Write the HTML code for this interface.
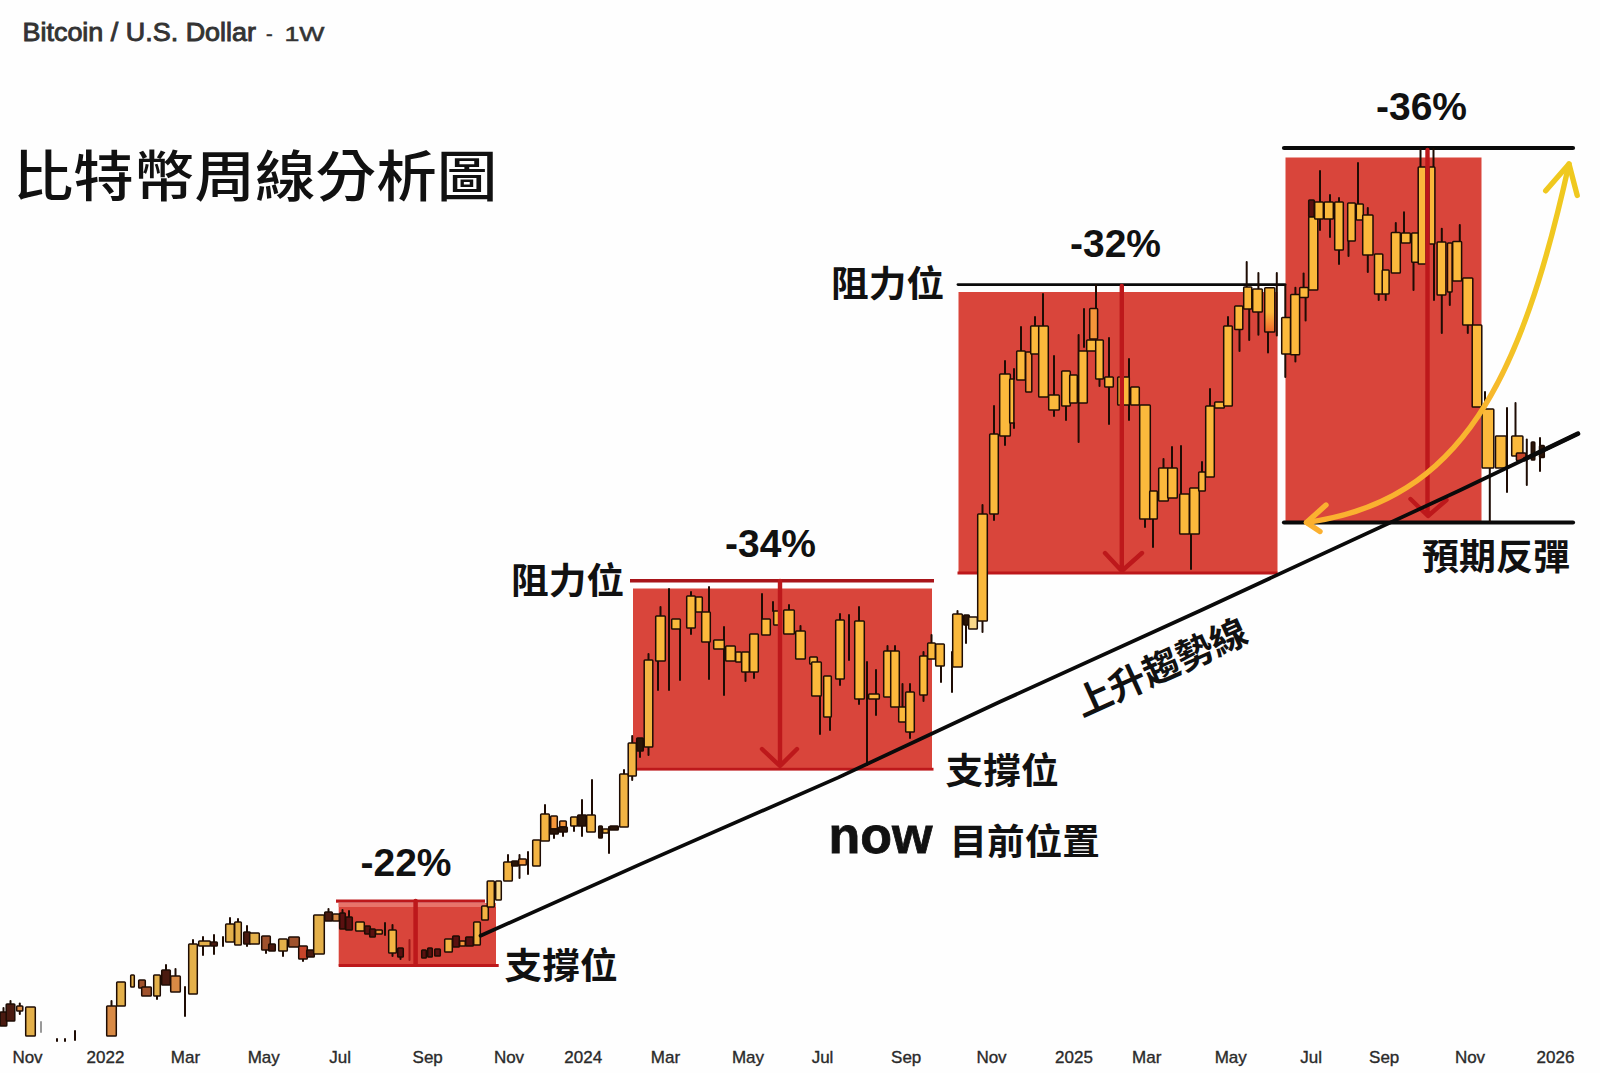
<!DOCTYPE html>
<html lang="zh-Hant"><head><meta charset="utf-8"><title>比特幣周線分析圖</title>
<style>
html,body{margin:0;padding:0;background:#fefefe}
body{width:1600px;height:1073px;overflow:hidden;position:relative}
svg{position:absolute;left:0;top:0;display:block}
text{font-family:"Liberation Sans","Noto Sans CJK TC",sans-serif;fill:#111}
.cjk{font-family:"Liberation Sans","Noto Sans CJK TC",sans-serif;font-weight:700}
.now{font-family:"Liberation Sans",sans-serif;font-weight:700;stroke:#111;stroke-width:.8px}
.pct{font-family:"Liberation Sans",sans-serif;font-weight:700;font-size:39px}
.ax{font-family:"Liberation Sans",sans-serif;font-size:17px;fill:#2a2a2a;stroke:#2a2a2a;stroke-width:.35px;text-anchor:middle}
</style></head><body>
<svg width="1600" height="1073" viewBox="0 0 1600 1073">
<defs>
<linearGradient id="yc" x1="1306" y1="522" x2="1569" y2="164" gradientUnits="userSpaceOnUse"><stop offset="0" stop-color="#fbb030"/><stop offset="0.45" stop-color="#f8b52e"/><stop offset="0.62" stop-color="#f2c524"/><stop offset="1" stop-color="#efc91e"/></linearGradient>
<linearGradient id="yo" x1="0" y1="0" x2="0" y2="1"><stop offset="0.55" stop-color="#fbb93c"/><stop offset="1" stop-color="#f0662c"/></linearGradient>
</defs>

<g>
<rect x="338.7" y="903" width="157.3" height="63" fill="#d9453b"/>
<rect x="338.7" y="903" width="157.3" height="4" fill="#e8746a"/>
<rect x="336" y="899.5" width="149" height="3.2" fill="#bd181b"/>
<rect x="338.7" y="964" width="160" height="3" fill="#bd181b"/>
<rect x="633" y="588.5" width="299" height="181" fill="#d9453b"/>
<rect x="630" y="579" width="304" height="3.5" fill="#a81419"/>
<rect x="633" y="767.8" width="300.5" height="2.8" fill="#bd181b"/>
<rect x="958.5" y="292" width="319" height="281" fill="#d9453b"/>
<rect x="957.5" y="571.5" width="320" height="3" fill="#bd181b"/>
<rect x="1285.5" y="157.5" width="196" height="364" fill="#d9453b"/>
</g>
<g stroke="#0a0a0a" stroke-linecap="round">
<line x1="958" y1="284.6" x2="1285" y2="284.6" stroke-width="2.8"/>
<line x1="1284" y1="148" x2="1573" y2="148" stroke-width="4.2"/>
<line x1="1284" y1="522.5" x2="1573" y2="522.5" stroke-width="4.2"/>
</g>
<g stroke="#1e0c04" stroke-width="2" stroke-linecap="round">
<line x1="41" y1="1022" x2="41" y2="1032" stroke="#999"/>
<line x1="57" y1="1039" x2="57" y2="1041"/>
<line x1="65" y1="1039" x2="65" y2="1041"/>
<line x1="75" y1="1031" x2="75" y2="1040"/>
<line x1="185" y1="987" x2="185" y2="1016"/>
<line x1="223" y1="937" x2="223" y2="946"/>
<line x1="385" y1="923" x2="385" y2="935"/>
<line x1="409.5" y1="940" x2="409.5" y2="960" stroke="#a01818"/>
<line x1="528" y1="852" x2="528" y2="874"/>
<line x1="609" y1="827" x2="609" y2="853"/>
<line x1="658" y1="661" x2="658" y2="690"/>
<line x1="669" y1="589" x2="669" y2="690"/>
<line x1="680" y1="629" x2="680" y2="680"/>
<line x1="709" y1="587" x2="709" y2="679"/>
<line x1="724" y1="627" x2="724" y2="695"/>
<line x1="762" y1="594" x2="762" y2="619"/>
<line x1="820" y1="696" x2="820" y2="734"/>
<line x1="830" y1="717" x2="830" y2="730"/>
<line x1="849" y1="615" x2="849" y2="660"/>
<line x1="867" y1="662" x2="867" y2="765"/>
<line x1="876" y1="670" x2="876" y2="715"/>
<line x1="952" y1="652" x2="952" y2="692"/>
<line x1="1054" y1="356" x2="1054" y2="416"/>
<line x1="1078.6" y1="335" x2="1078.6" y2="442"/>
<line x1="1084" y1="309" x2="1084" y2="347"/>
<line x1="1109" y1="338" x2="1109" y2="424"/>
<line x1="1129" y1="359" x2="1129" y2="420"/>
<line x1="1249.2" y1="309" x2="1249.2" y2="340"/>
<line x1="1276.8" y1="273" x2="1276.8" y2="335.4"/>
<line x1="1305.6" y1="297.4" x2="1305.6" y2="320.5"/>
<line x1="1434" y1="244" x2="1434" y2="300"/>
<line x1="1489.8" y1="468" x2="1489.8" y2="521"/>
<line x1="1507" y1="408" x2="1507" y2="492"/>
<line x1="1526.8" y1="439.6" x2="1526.8" y2="485"/>
<line x1="3.5" y1="1008" x2="3.5" y2="1012"/>
<line x1="10.5" y1="1001" x2="10.5" y2="1004"/>
<line x1="19.8" y1="1003.5" x2="19.8" y2="1006"/>
<line x1="19.8" y1="1011" x2="19.8" y2="1014"/>
<line x1="111.5" y1="1001" x2="111.5" y2="1006"/>
<line x1="157" y1="996" x2="157" y2="999"/>
<line x1="166" y1="965" x2="166" y2="970"/>
<line x1="175.5" y1="969" x2="175.5" y2="976"/>
<line x1="193" y1="940" x2="193" y2="944"/>
<line x1="203" y1="937" x2="203" y2="941"/>
<line x1="203" y1="946" x2="203" y2="955"/>
<line x1="214" y1="935" x2="214" y2="942"/>
<line x1="214" y1="946" x2="214" y2="954"/>
<line x1="230" y1="918" x2="230" y2="924"/>
<line x1="238" y1="919" x2="238" y2="922"/>
<line x1="247" y1="926" x2="247" y2="932"/>
<line x1="247" y1="944" x2="247" y2="946"/>
<line x1="266" y1="950" x2="266" y2="953"/>
<line x1="283" y1="951" x2="283" y2="956"/>
<line x1="303" y1="959" x2="303" y2="961"/>
<line x1="328.5" y1="909" x2="328.5" y2="912"/>
<line x1="342.5" y1="910" x2="342.5" y2="913"/>
<line x1="349" y1="911" x2="349" y2="917"/>
<line x1="392.5" y1="925" x2="392.5" y2="930"/>
<line x1="392.5" y1="953" x2="392.5" y2="956"/>
<line x1="400.5" y1="957" x2="400.5" y2="959"/>
<line x1="508" y1="855" x2="508" y2="862"/>
<line x1="519.5" y1="855" x2="519.5" y2="859"/>
<line x1="519.5" y1="865" x2="519.5" y2="878"/>
<line x1="545" y1="805" x2="545" y2="814"/>
<line x1="554" y1="834" x2="554" y2="838"/>
<line x1="563" y1="832" x2="563" y2="836"/>
<line x1="574" y1="826" x2="574" y2="831"/>
<line x1="582" y1="800" x2="582" y2="815"/>
<line x1="582" y1="826" x2="582" y2="836"/>
<line x1="592" y1="780" x2="592" y2="815"/>
<line x1="624" y1="770" x2="624" y2="774"/>
<line x1="632.2" y1="736" x2="632.2" y2="743"/>
<line x1="632.2" y1="776" x2="632.2" y2="780"/>
<line x1="640" y1="751" x2="640" y2="757"/>
<line x1="648.5" y1="654" x2="648.5" y2="660"/>
<line x1="648.5" y1="747" x2="648.5" y2="755"/>
<line x1="660.5" y1="607" x2="660.5" y2="616"/>
<line x1="691" y1="592" x2="691" y2="596"/>
<line x1="691" y1="628" x2="691" y2="634"/>
<line x1="745.5" y1="672" x2="745.5" y2="681"/>
<line x1="754" y1="672" x2="754" y2="678"/>
<line x1="773" y1="602" x2="773" y2="611"/>
<line x1="789" y1="605" x2="789" y2="610"/>
<line x1="800.5" y1="626" x2="800.5" y2="631"/>
<line x1="840" y1="614" x2="840" y2="620"/>
<line x1="840" y1="679" x2="840" y2="685"/>
<line x1="859" y1="607" x2="859" y2="621"/>
<line x1="859" y1="699" x2="859" y2="704"/>
<line x1="887.5" y1="646" x2="887.5" y2="651"/>
<line x1="895" y1="646" x2="895" y2="651"/>
<line x1="902.5" y1="684" x2="902.5" y2="707"/>
<line x1="910" y1="684" x2="910" y2="692"/>
<line x1="910" y1="732" x2="910" y2="738"/>
<line x1="923.5" y1="652" x2="923.5" y2="656"/>
<line x1="923.5" y1="695" x2="923.5" y2="701"/>
<line x1="931.5" y1="635" x2="931.5" y2="643"/>
<line x1="941" y1="666" x2="941" y2="682"/>
<line x1="957.5" y1="611" x2="957.5" y2="614"/>
<line x1="966" y1="625" x2="966" y2="643"/>
<line x1="982.5" y1="505" x2="982.5" y2="514"/>
<line x1="982.5" y1="621" x2="982.5" y2="632"/>
<line x1="994" y1="406" x2="994" y2="434"/>
<line x1="994" y1="514" x2="994" y2="520"/>
<line x1="1005" y1="361" x2="1005" y2="374"/>
<line x1="1005" y1="436" x2="1005" y2="445"/>
<line x1="1014" y1="369" x2="1014" y2="379"/>
<line x1="1014" y1="423" x2="1014" y2="428"/>
<line x1="1021" y1="327" x2="1021" y2="351"/>
<line x1="1035" y1="317" x2="1035" y2="326"/>
<line x1="1043" y1="294" x2="1043" y2="326"/>
<line x1="1066" y1="406" x2="1066" y2="420"/>
<line x1="1096" y1="285" x2="1096" y2="308.5"/>
<line x1="1099.5" y1="379" x2="1099.5" y2="386"/>
<line x1="1145" y1="519" x2="1145" y2="527"/>
<line x1="1153" y1="519" x2="1153" y2="547"/>
<line x1="1163.5" y1="459" x2="1163.5" y2="468"/>
<line x1="1172" y1="447" x2="1172" y2="468"/>
<line x1="1181" y1="446" x2="1181" y2="494"/>
<line x1="1191" y1="534" x2="1191" y2="569"/>
<line x1="1202" y1="462" x2="1202" y2="472"/>
<line x1="1210" y1="389" x2="1210" y2="406"/>
<line x1="1228" y1="317" x2="1228" y2="326"/>
<line x1="1239.5" y1="329.5" x2="1239.5" y2="351"/>
<line x1="1246.7" y1="262" x2="1246.7" y2="287"/>
<line x1="1258.4" y1="273" x2="1258.4" y2="289"/>
<line x1="1258.4" y1="312" x2="1258.4" y2="334.7"/>
<line x1="1268" y1="332" x2="1268" y2="352.6"/>
<line x1="1285.3" y1="285" x2="1285.3" y2="317.5"/>
<line x1="1285.3" y1="354" x2="1285.3" y2="377"/>
<line x1="1295.4" y1="287.7" x2="1295.4" y2="294.4"/>
<line x1="1295.4" y1="354.8" x2="1295.4" y2="361.5"/>
<line x1="1303.6" y1="273.5" x2="1303.6" y2="287.4"/>
<line x1="1320" y1="171" x2="1320" y2="202"/>
<line x1="1320" y1="219" x2="1320" y2="230"/>
<line x1="1330" y1="195" x2="1330" y2="202"/>
<line x1="1330" y1="219" x2="1330" y2="237"/>
<line x1="1339" y1="198" x2="1339" y2="202"/>
<line x1="1339" y1="250" x2="1339" y2="264"/>
<line x1="1348.5" y1="241" x2="1348.5" y2="256"/>
<line x1="1358" y1="163" x2="1358" y2="204"/>
<line x1="1367.8" y1="208" x2="1367.8" y2="215"/>
<line x1="1367.8" y1="255" x2="1367.8" y2="272"/>
<line x1="1378.7" y1="294" x2="1378.7" y2="300"/>
<line x1="1385.7" y1="294" x2="1385.7" y2="300"/>
<line x1="1395.8" y1="223" x2="1395.8" y2="232.5"/>
<line x1="1404" y1="212.3" x2="1404" y2="233"/>
<line x1="1413.5" y1="262.3" x2="1413.5" y2="290"/>
<line x1="1420.5" y1="149" x2="1420.5" y2="167"/>
<line x1="1433.5" y1="149" x2="1433.5" y2="167"/>
<line x1="1441.8" y1="228.7" x2="1441.8" y2="242"/>
<line x1="1441.8" y1="295" x2="1441.8" y2="333"/>
<line x1="1449.8" y1="292" x2="1449.8" y2="305"/>
<line x1="1459.8" y1="225" x2="1459.8" y2="241.4"/>
<line x1="1467.8" y1="325" x2="1467.8" y2="333"/>
<line x1="1485" y1="392" x2="1485" y2="409"/>
<line x1="1515.5" y1="403" x2="1515.5" y2="436"/>
<line x1="1540" y1="438" x2="1540" y2="445.6"/>
<line x1="1540" y1="457.5" x2="1540" y2="471"/>
</g>
<g stroke="#1e0c04" stroke-width="1.5">
<rect x="0.2" y="1012" width="6.6" height="14" fill="#4a1a10" rx="0.8"/>
<rect x="6.2" y="1004" width="8.6" height="17" fill="#4a1a10" rx="0.8"/>
<rect x="16.7" y="1006" width="6.1" height="5" fill="#d98a45" rx="0.8"/>
<rect x="25.7" y="1007" width="9.6" height="29" fill="#e4b04a" rx="0.8"/>
<rect x="106.7" y="1006" width="9.6" height="30" fill="#d98a45" rx="0.8"/>
<rect x="116.7" y="982" width="8.6" height="24" fill="#e4b04a" rx="0.8"/>
<rect x="130.7" y="975" width="3.6" height="12" fill="#e4b04a" rx="0.8"/>
<rect x="138.7" y="980" width="6.6" height="8" fill="#a0522d" rx="0.8"/>
<rect x="141.7" y="987" width="9.6" height="9" fill="#a0522d" rx="0.8"/>
<rect x="153.7" y="975" width="6.6" height="21" fill="#e4b04a" rx="0.8"/>
<rect x="161.7" y="970" width="8.6" height="15" fill="#4a1a10" rx="0.8"/>
<rect x="170.7" y="976" width="9.6" height="16" fill="#d98a45" rx="0.8"/>
<rect x="188.7" y="944" width="8.6" height="50" fill="#e4b04a" rx="0.8"/>
<rect x="198.7" y="941" width="11.6" height="5" fill="#e4b04a" rx="0.8"/>
<rect x="210.7" y="942" width="6.6" height="4" fill="#4a1a10" rx="0.8"/>
<rect x="225.7" y="924" width="8.6" height="18" fill="#e4b04a" rx="0.8"/>
<rect x="234.7" y="922" width="6.6" height="23" fill="#e4b04a" rx="0.8"/>
<rect x="243.7" y="932" width="6.6" height="12" fill="#4a1a10" rx="0.8"/>
<rect x="249.7" y="933" width="9.6" height="11" fill="#e4b04a" rx="0.8"/>
<rect x="261.7" y="936" width="8.6" height="14" fill="#a0522d" rx="0.8"/>
<rect x="268.7" y="944" width="6.6" height="7" fill="#4a1a10" rx="0.8"/>
<rect x="278.7" y="939" width="8.6" height="12" fill="#e4b04a" rx="0.8"/>
<rect x="288.7" y="937" width="10.6" height="10" fill="#a0522d" rx="0.8"/>
<rect x="298.7" y="946" width="8.6" height="13" fill="#c8452a" rx="0.8"/>
<rect x="306.7" y="950" width="7.6" height="7" fill="#4a1a10" rx="0.8"/>
<rect x="313.7" y="915" width="10.6" height="39" fill="#e4b04a" rx="0.8"/>
<rect x="324.7" y="912" width="7.6" height="9" fill="#4a1a10" rx="0.8"/>
<rect x="332.7" y="914" width="6.6" height="7" fill="#d98a45" rx="0.8"/>
<rect x="339.7" y="913" width="5.6" height="16" fill="#5a1010" rx="0.8"/>
<rect x="345.7" y="917" width="6.6" height="13" fill="#5a1010" rx="0.8"/>
<rect x="355.7" y="922" width="8.6" height="9" fill="#f3b443" rx="0.8"/>
<rect x="364.7" y="926" width="5.6" height="8" fill="#5a1010" rx="0.8"/>
<rect x="369.7" y="929" width="5.6" height="8" fill="#5a1010" rx="0.8"/>
<rect x="375.7" y="930" width="6.6" height="4" fill="#f5963a" rx="0.8"/>
<rect x="388.7" y="930" width="7.6" height="23" fill="#f3b443" rx="0.8"/>
<rect x="397.7" y="948" width="5.6" height="9" fill="#5a1010" rx="0.8"/>
<rect x="421.7" y="950" width="4.6" height="8" fill="#5a1010" rx="0.8"/>
<rect x="427.7" y="948" width="4.6" height="9" fill="#5a1010" rx="0.8"/>
<rect x="434.7" y="949" width="5.6" height="7" fill="#5a1010" rx="0.8"/>
<rect x="444.7" y="939" width="7.6" height="13" fill="#f3b443" rx="0.8"/>
<rect x="452.7" y="936" width="6.6" height="11" fill="#5a1010" rx="0.8"/>
<rect x="459.7" y="941" width="5.6" height="5" fill="#f5963a" rx="0.8"/>
<rect x="465.7" y="937" width="7.6" height="9" fill="#5a1010" rx="0.8"/>
<rect x="473.7" y="922" width="6.6" height="23" fill="#f3b443" rx="0.8"/>
<rect x="481.7" y="906" width="6.6" height="14" fill="#f3b443" rx="0.8"/>
<rect x="487.2" y="881" width="7.1" height="26" fill="#f3b443" rx="0.8"/>
<rect x="495.7" y="881" width="5.6" height="19" fill="#fbd98a" rx="0.8"/>
<rect x="503.7" y="862" width="8.6" height="19" fill="#f3b443" rx="0.8"/>
<rect x="511.7" y="861" width="6.6" height="5" fill="#2a1508" rx="0.8"/>
<rect x="518.7" y="859" width="7.6" height="6" fill="#f5963a" rx="0.8"/>
<rect x="532.7" y="840" width="7.6" height="26" fill="#f3b443" rx="0.8"/>
<rect x="540.7" y="814" width="8.6" height="27" fill="#f3b443" rx="0.8"/>
<rect x="550.7" y="816" width="6.6" height="13" fill="#f5963a" rx="0.8"/>
<rect x="549.7" y="829" width="8.6" height="5" fill="#2a1508" rx="0.8"/>
<rect x="559.7" y="821" width="6.6" height="6" fill="#f5963a" rx="0.8"/>
<rect x="558.7" y="827" width="8.6" height="5" fill="#2a1508" rx="0.8"/>
<rect x="570.7" y="817" width="6.6" height="9" fill="#f3b443" rx="0.8"/>
<rect x="577.7" y="815" width="8.6" height="11" fill="#2a1508" rx="0.8"/>
<rect x="586.7" y="815" width="8.6" height="17" fill="#f3b443" rx="0.8"/>
<rect x="598.7" y="826" width="3.6" height="12" fill="#2a1508" rx="0.8"/>
<rect x="602.7" y="829" width="5.6" height="4" fill="#f3b443" rx="0.8"/>
<rect x="609.7" y="826" width="8.6" height="4" fill="#2a1508" rx="0.8"/>
<rect x="619.7" y="774" width="8.6" height="53" fill="#f3b443" rx="0.8"/>
<rect x="628.2" y="743" width="8.1" height="33" fill="#f3b443" rx="0.8"/>
<rect x="636.7" y="738" width="6.6" height="13" fill="#2a1508" rx="0.8"/>
<rect x="644.2" y="660" width="8.6" height="87" fill="#f3b443" rx="0.8"/>
<rect x="655.7" y="616" width="9.6" height="45" fill="#fbb93c" rx="0.8"/>
<rect x="671.7" y="619" width="8.6" height="10" fill="#fbb93c" rx="0.8"/>
<rect x="686.7" y="596" width="8.6" height="32" fill="#fbb93c" rx="0.8"/>
<rect x="695.7" y="597" width="6.6" height="15" fill="#fbb93c" rx="0.8"/>
<rect x="701.7" y="612" width="8.6" height="30" fill="#fbb93c" rx="0.8"/>
<rect x="713.7" y="640" width="10.6" height="9" fill="#fbb93c" rx="0.8"/>
<rect x="725.7" y="646" width="9.6" height="15" fill="#fbb93c" rx="0.8"/>
<rect x="735.7" y="652" width="5.6" height="10" fill="#fbb93c" rx="0.8"/>
<rect x="741.7" y="652" width="7.6" height="20" fill="#fbb93c" rx="0.8"/>
<rect x="749.7" y="634" width="8.6" height="38" fill="#fbb93c" rx="0.8"/>
<rect x="761.7" y="619" width="8.6" height="16" fill="#fbb93c" rx="0.8"/>
<rect x="773.7" y="611" width="6.6" height="14" fill="#fbb93c" rx="0.8"/>
<rect x="783.7" y="610" width="10.6" height="24" fill="#fbb93c" rx="0.8"/>
<rect x="795.7" y="631" width="9.6" height="28" fill="#fbb93c" rx="0.8"/>
<rect x="809.7" y="657" width="7.6" height="7" fill="#fbb93c" rx="0.8"/>
<rect x="811.7" y="662" width="9.6" height="34" fill="#fbb93c" rx="0.8"/>
<rect x="823.7" y="676" width="7.6" height="41" fill="#fbb93c" rx="0.8"/>
<rect x="835.7" y="620" width="8.6" height="59" fill="#fbb93c" rx="0.8"/>
<rect x="854.7" y="621" width="9.6" height="78" fill="#fbb93c" rx="0.8"/>
<rect x="868.7" y="694" width="10.6" height="5" fill="#fbb93c" rx="0.8"/>
<rect x="883.7" y="651" width="7.6" height="46" fill="#fbb93c" rx="0.8"/>
<rect x="890.7" y="651" width="8.6" height="56" fill="#fbb93c" rx="0.8"/>
<rect x="898.7" y="707" width="7.6" height="15" fill="#fbb93c" rx="0.8"/>
<rect x="905.7" y="692" width="8.6" height="40" fill="#fbb93c" rx="0.8"/>
<rect x="919.7" y="656" width="7.6" height="39" fill="#fbb93c" rx="0.8"/>
<rect x="927.7" y="643" width="7.6" height="16" fill="#fbb93c" rx="0.8"/>
<rect x="935.7" y="644" width="8.6" height="22" fill="#fbb93c" rx="0.8"/>
<rect x="952.7" y="614" width="9.6" height="53" fill="#fbb93c" rx="0.8"/>
<rect x="963.7" y="615" width="5.6" height="10" fill="#2a1508" rx="0.8"/>
<rect x="968.7" y="617" width="8.6" height="12" fill="#fbd98a" rx="0.8"/>
<rect x="977.7" y="514" width="9.6" height="107" fill="#fbb93c" rx="0.8"/>
<rect x="989.7" y="434" width="8.6" height="80" fill="#fbb93c" rx="0.8"/>
<rect x="999.7" y="374" width="10.6" height="62" fill="#fbb93c" rx="0.8"/>
<rect x="1009.7" y="379" width="4.2" height="44" fill="#fbb93c" rx="0.8"/>
<rect x="1016.7" y="351" width="8.6" height="29" fill="#fbb93c" rx="0.8"/>
<rect x="1025.7" y="352" width="6.1" height="40" fill="#f5963a" rx="0.8"/>
<rect x="1030.7" y="326" width="8.6" height="28" fill="#fbb93c" rx="0.8"/>
<rect x="1038.7" y="326" width="9.6" height="71" fill="#fbb93c" rx="0.8"/>
<rect x="1048.7" y="395" width="10.6" height="15" fill="#fbb93c" rx="0.8"/>
<rect x="1061.7" y="371" width="8.6" height="35" fill="#fbb93c" rx="0.8"/>
<rect x="1069.7" y="375" width="7.6" height="28" fill="#fbb93c" rx="0.8"/>
<rect x="1078.7" y="351" width="8.6" height="52" fill="#fbb93c" rx="0.8"/>
<rect x="1086.7" y="340" width="9.6" height="11" fill="#fbb93c" rx="0.8"/>
<rect x="1089.7" y="308.5" width="7.9" height="30.5" fill="#f5963a" rx="0.8"/>
<rect x="1095.7" y="340" width="7.6" height="39" fill="#fbb93c" rx="0.8"/>
<rect x="1104.7" y="377" width="8.6" height="10" fill="#fbb93c" rx="0.8"/>
<rect x="1117.7" y="377" width="11.6" height="28" fill="#fbb93c" rx="0.8"/>
<rect x="1130.7" y="387" width="8.6" height="18" fill="#fbb93c" rx="0.8"/>
<rect x="1139.7" y="405" width="10.6" height="114" fill="#fbb93c" rx="0.8"/>
<rect x="1149.7" y="491" width="7.6" height="28" fill="#fbb93c" rx="0.8"/>
<rect x="1158.7" y="468" width="9.6" height="33" fill="#fbb93c" rx="0.8"/>
<rect x="1167.7" y="468" width="9.6" height="30" fill="#fbb93c" rx="0.8"/>
<rect x="1179.7" y="494" width="9.6" height="40" fill="#fbb93c" rx="0.8"/>
<rect x="1189.7" y="488" width="9.6" height="46" fill="#fbb93c" rx="0.8"/>
<rect x="1198.7" y="472" width="6.6" height="19" fill="#fbb93c" rx="0.8"/>
<rect x="1205.7" y="406" width="8.6" height="71" fill="#fbb93c" rx="0.8"/>
<rect x="1214.7" y="402" width="9.6" height="6" fill="#fbb93c" rx="0.8"/>
<rect x="1223.7" y="326" width="8.6" height="80" fill="#fbb93c" rx="0.8"/>
<rect x="1234.7" y="306" width="8.1" height="23.5" fill="#fbb93c" rx="0.8"/>
<rect x="1243.7" y="287" width="8.1" height="22" fill="#fbb93c" rx="0.8"/>
<rect x="1252.7" y="289" width="9.6" height="23" fill="#fbb93c" rx="0.8"/>
<rect x="1264.7" y="287.7" width="10.1" height="44.3" fill="url(#yo)" rx="0.8"/>
<rect x="1281.7" y="317.5" width="8.8" height="36.5" fill="#fbb93c" rx="0.8"/>
<rect x="1290.7" y="294.4" width="8.9" height="60.4" fill="#fbb93c" rx="0.8"/>
<rect x="1299.7" y="287.4" width="8.6" height="10" fill="#fbb93c" rx="0.8"/>
<rect x="1308.7" y="200" width="5.6" height="17" fill="#5a1010" rx="0.8"/>
<rect x="1308.7" y="217" width="9.1" height="73" fill="#fbb93c" rx="0.8"/>
<rect x="1314.7" y="202" width="8.6" height="17" fill="#fbb93c" rx="0.8"/>
<rect x="1324.2" y="202" width="9.1" height="17" fill="#fbb93c" rx="0.8"/>
<rect x="1334.7" y="202" width="8.6" height="48" fill="#fbb93c" rx="0.8"/>
<rect x="1347.7" y="203" width="7.6" height="38" fill="#fbb93c" rx="0.8"/>
<rect x="1356.3" y="204" width="7" height="16" fill="#fbb93c" rx="0.8"/>
<rect x="1362.7" y="215" width="10.3" height="40" fill="#fbb93c" rx="0.8"/>
<rect x="1374.5" y="254" width="8.3" height="40" fill="#fbb93c" rx="0.8"/>
<rect x="1382.2" y="270" width="6.9" height="24" fill="#fbb93c" rx="0.8"/>
<rect x="1391.3" y="232.5" width="9" height="40.5" fill="#fbb93c" rx="0.8"/>
<rect x="1401.3" y="233" width="9" height="10" fill="#fbb93c" rx="0.8"/>
<rect x="1411.7" y="233" width="7.6" height="29.3" fill="#fbb93c" rx="0.8"/>
<rect x="1418.2" y="167" width="7.9" height="97" fill="#fbb93c" rx="0.8"/>
<rect x="1428.9" y="167" width="6" height="77" fill="#fbb93c" rx="0.8"/>
<rect x="1437.1" y="242" width="8.8" height="53" fill="#fbb93c" rx="0.8"/>
<rect x="1447.5" y="243" width="4.6" height="49" fill="#f5963a" rx="0.8"/>
<rect x="1452.7" y="241.4" width="8.9" height="39.6" fill="#fbb93c" rx="0.8"/>
<rect x="1462.7" y="278" width="10.1" height="47" fill="#fbb93c" rx="0.8"/>
<rect x="1472.2" y="325" width="9.6" height="82" fill="#fbb93c" rx="0.8"/>
<rect x="1482.1" y="409" width="11.7" height="59" fill="#fbb93c" rx="0.8"/>
<rect x="1495.5" y="436" width="10.8" height="32" fill="#fbb93c" rx="0.8"/>
<rect x="1511.7" y="436" width="11.2" height="20" fill="#fbb93c" rx="0.8"/>
<rect x="1516.4" y="453" width="9.5" height="7.5" fill="#c8452a" rx="0.8"/>
<rect x="1531.3" y="442" width="3.5" height="18" fill="#2a1508" rx="0.8"/>
<rect x="1539.5" y="445.6" width="4.8" height="11.9" fill="#2a1508" rx="0.8"/>
</g>
<g stroke="#bd181b" fill="none" stroke-linecap="round" stroke-linejoin="round">
<line x1="415.6" y1="901" x2="415.6" y2="964" stroke-width="4.5"/>
<path d="M780,581 V765 M762,749 L780,766 L797,749" stroke-width="4.4"/>
<path d="M1121.8,286 V571 M1105,553 L1121.8,571 L1142,553" stroke-width="4.4"/>
<path d="M1427.5,150 V515 M1410.5,499 L1428,516 L1446.5,500" stroke-width="4.4"/>
</g>
<path d="M480.5,935.8 L640,864.4 L838,777.6 L1000,701.8 L1200,610.7 L1460,490.3 L1578,433.7" fill="none" stroke="#0a0a0a" stroke-width="3.7" stroke-linecap="round" stroke-linejoin="round"/>
<path d="M1525,459 L1578,433.7" fill="none" stroke="#0a0a0a" stroke-width="4.6" stroke-linecap="round"/>
<g fill="none" stroke="url(#yc)" stroke-width="5.4" stroke-linecap="round" stroke-linejoin="round">
<path d="M1306.5,522.5 C1461.9,501.2 1521.4,379 1569,164"/>
<path d="M1326,505 L1306.5,522.5 L1320,531.5"/>
<path d="M1545.7,190.8 L1569,164 L1577.2,195.4"/>
</g>
<text x="22.5" y="40.5" style="font-size:25px;fill:#333;stroke:#333;stroke-width:.9px" textLength="233.5" lengthAdjust="spacingAndGlyphs">Bitcoin / U.S. Dollar</text>
<text x="266" y="40.5" style="font-size:20px;fill:#333;stroke:#333;stroke-width:.5px">-</text>
<text x="284.5" y="40.5" style="font-size:20.5px;fill:#333;stroke:#333;stroke-width:.5px" textLength="40" lengthAdjust="spacingAndGlyphs">1W</text>
<text class="cjk" transform="translate(12.7,195.95) scale(1.01,0.917)" x="0" y="0" style="font-size:60px;font-weight:500">比特幣周線分析圖</text>
<text class="cjk" transform="translate(511,593.5) scale(1.02,0.97)" style="font-size:37px;">阻力位</text>
<text class="cjk" transform="translate(831,296.5) scale(1.02,0.97)" style="font-size:37px;">阻力位</text>
<text class="cjk" transform="translate(945.5,783.5) scale(1.02,0.98)" style="font-size:37px;">支撐位</text>
<text class="cjk" transform="translate(504.5,979) scale(1.02,0.98)" style="font-size:37px;">支撐位</text>
<text class="cjk" transform="translate(1422,569.5) scale(1.0,0.97)" style="font-size:37px;">預期反彈</text>
<text class="cjk" transform="translate(949.5,855) scale(1.03,1.0)" style="font-size:36.5px;">目前位置</text>
<text class="now" transform="translate(828.4,853) scale(1,1)" style="font-size:52px;">now</text>
<text class="cjk" transform="translate(1161,667.5) rotate(-24.3) scale(1.027,1)" x="0" y="13" text-anchor="middle" style="font-size:36px">上升趨勢線</text>
<text class="pct" x="1376" y="120">-36%</text>
<text class="pct" x="1070" y="257">-32%</text>
<text class="pct" x="725" y="557">-34%</text>
<text class="pct" x="360.5" y="876">-22%</text>
<text class="ax" x="27.5" y="1063">Nov</text>
<text class="ax" x="105.5" y="1063">2022</text>
<text class="ax" x="185.5" y="1063">Mar</text>
<text class="ax" x="263.7" y="1063">May</text>
<text class="ax" x="340.2" y="1063">Jul</text>
<text class="ax" x="427.7" y="1063">Sep</text>
<text class="ax" x="509" y="1063">Nov</text>
<text class="ax" x="583.2" y="1063">2024</text>
<text class="ax" x="665.5" y="1063">Mar</text>
<text class="ax" x="748" y="1063">May</text>
<text class="ax" x="822.5" y="1063">Jul</text>
<text class="ax" x="906.2" y="1063">Sep</text>
<text class="ax" x="991.5" y="1063">Nov</text>
<text class="ax" x="1074" y="1063">2025</text>
<text class="ax" x="1146.7" y="1063">Mar</text>
<text class="ax" x="1230.7" y="1063">May</text>
<text class="ax" x="1311.2" y="1063">Jul</text>
<text class="ax" x="1384.2" y="1063">Sep</text>
<text class="ax" x="1470" y="1063">Nov</text>
<text class="ax" x="1555.5" y="1063">2026</text>
</svg>
</body></html>
